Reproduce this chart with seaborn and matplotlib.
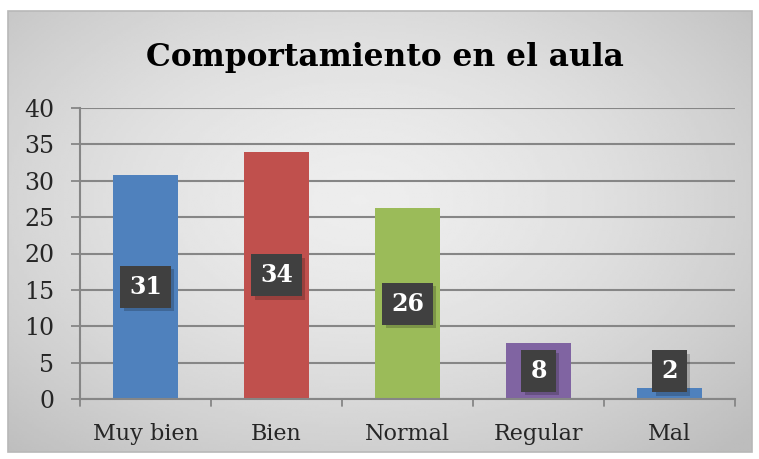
import numpy as np
import pandas as pd
import matplotlib
matplotlib.use("Agg")
import matplotlib.pyplot as plt
import matplotlib.patheffects as pe
import seaborn as sns
from matplotlib.patches import Rectangle

categorias = ["Muy bien", "Bien", "Normal", "Regular", "Mal"]
valores = [30.8, 34.0, 26.2, 7.7, 1.5]
etiquetas = ["31", "34", "26", "8", "2"]
colores = ["#4F81BD", "#C0504D", "#9BBB59", "#8064A2", "#4F81BD"]
yticks = [0, 5, 10, 15, 20, 25, 30, 35, 40]

df = pd.DataFrame({"Categoria": categorias, "Valor": valores})

sns.set_style("white")
plt.rcParams["font.family"] = ["DejaVu Serif"]

fig = plt.figure(figsize=(7.59, 4.59), dpi=100)

# fondo degradado estilo Excel
bg = fig.add_axes([0, 0, 1, 1], zorder=-2)
bg.set_xlim(0, 759)
bg.set_ylim(459, 0)
bg.axis("off")
xx, yy = np.meshgrid(np.linspace(8, 752, 300), np.linspace(11, 452, 200))
r = np.sqrt(((xx - 360) / 500) ** 2 + ((yy - 200) / 320) ** 2)
grad = np.clip(0.93 - 0.17 * r ** 1.6, 0.74, 0.93)
bg.imshow(grad, cmap="gray", vmin=0, vmax=1, extent=(8, 752, 452, 11), aspect="auto")
bg.add_patch(Rectangle((8, 11), 744, 441, fill=False, edgecolor="#b8b8b8", lw=1.2))

ax = fig.add_axes([80 / 759, 1 - 399 / 459, 655 / 759, 291 / 459])
ax.patch.set_alpha(0)
sns.barplot(data=df, x="Categoria", y="Valor", hue="Categoria", palette=colores,
            width=0.5, saturation=1, legend=False, linewidth=0, edgecolor="none", ax=ax)

ax.set_ylim(0, 40)
ax.set_xlim(-0.5, len(categorias) - 0.5)
ax.set_yticks(yticks)
ax.set_yticklabels([str(t) for t in yticks], fontsize=17)
ax.set_xlabel("")
ax.set_ylabel("")
ax.tick_params(axis="x", length=0, labelsize=16, pad=17)
ax.tick_params(axis="y", length=6.5, width=1.3, color="#868686", pad=12, left=True)
ax.grid(axis="y", color="#868686", lw=1.5)
ax.set_axisbelow(True)
for s in ["top", "right"]:
    ax.spines[s].set_visible(False)
for s in ["left", "bottom"]:
    ax.spines[s].set_color("#868686")
    ax.spines[s].set_linewidth(1.5)

# marcas de separacion entre categorias
for b in np.arange(-0.5, len(categorias), 1.0):
    ax.plot([b, b], [0, -0.9], color="#868686", lw=1.3, clip_on=False)

# etiquetas de datos (cuadro oscuro con sombra leve)
for i, (v, t) in enumerate(zip(valores, etiquetas)):
    txt = ax.text(i, max(v / 2, 3.8), t, ha="center", va="center", color="white",
                  fontsize=17, fontweight="bold",
                  bbox=dict(boxstyle="square,pad=0.38", fc="#404040", ec="none"))
    txt.get_bbox_patch().set_path_effects(
        [pe.SimplePatchShadow(offset=(2.5, -2.5), shadow_rgbFace="black", alpha=0.2),
         pe.Normal()])

fig.text(0.507, 0.875, "Comportamiento en el aula", ha="center", va="center",
         fontsize=22.5, fontweight="bold", color="black")

fig.savefig("out.png", dpi=100)
